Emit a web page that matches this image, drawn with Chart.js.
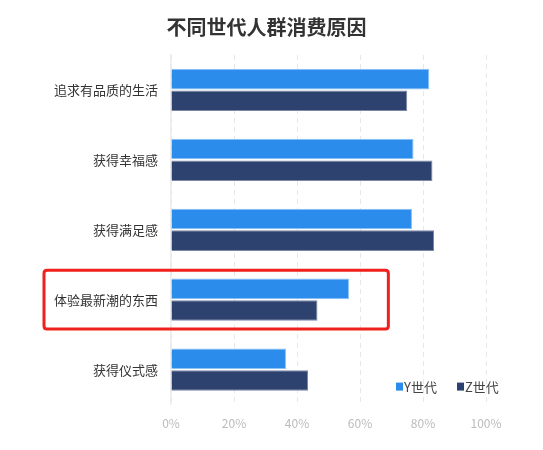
<!DOCTYPE html>
<html>
<head>
<meta charset="utf-8">
<script src="https://cdn.jsdelivr.net/npm/chart.js@4"></script>
<style>
html,body{margin:0;padding:0;background:#fff;}
#wrap{width:543px;height:450px;}
</style>
</head>
<body>
<div id="wrap"><canvas id="c"></canvas></div>
<script>
const categories = ['追求有品质的生活','获得幸福感','获得满足感','体验最新潮的东西','获得仪式感'];
const seriesY = [82, 77, 76.5, 56.5, 36.5];
const seriesZ = [75, 83, 83.5, 46.5, 43.5];
const seriesNames = ['Y世代','Z世代'];
const xTicks = [0,20,40,60,80,100];
const highlightIndex = 3;

const FONT = '"Noto Sans CJK SC","Noto Sans",sans-serif';

const highlightPlugin = {
  id:'highlight',
  afterDatasetsDraw(chart){
    const {ctx, scales:{x,y}} = chart;
    const c = y.getPixelForValue(highlightIndex);
    const step = Math.abs(y.getPixelForValue(1) - y.getPixelForValue(0));
    const top = c - step*0.42, bottom = c + step*0.42;
    const left = 44, right = x.getPixelForValue(69);
    ctx.save();
    ctx.strokeStyle = '#f0211d';
    ctx.lineWidth = 3;
    const r = 3;
    ctx.beginPath();
    ctx.moveTo(left+r, top);
    ctx.lineTo(right-r, top); ctx.quadraticCurveTo(right, top, right, top+r);
    ctx.lineTo(right, bottom-r); ctx.quadraticCurveTo(right, bottom, right-r, bottom);
    ctx.lineTo(left+r, bottom); ctx.quadraticCurveTo(left, bottom, left, bottom-r);
    ctx.lineTo(left, top+r); ctx.quadraticCurveTo(left, top, left+r, top);
    ctx.closePath();
    ctx.stroke();
    ctx.restore();
  }
};

const legendPlugin = {
  id:'innerLegend',
  afterDraw(chart){
    const {ctx, chartArea} = chart;
    ctx.save();
    ctx.font = '13px ' + FONT;
    ctx.textBaseline = 'middle';
    const yc = chartArea.bottom - 18;
    let xs = [396, 457];
    chart.data.datasets.forEach((ds,i)=>{
      ctx.fillStyle = ds.backgroundColor;
      ctx.fillRect(xs[i], yc-4, 7, 8);
      ctx.fillStyle = '#444';
      ctx.textAlign = 'left';
      ctx.fillText(ds.label, xs[i]+8, yc);
    });
    ctx.restore();
  }
};

new Chart(document.getElementById('c'), {
  type:'bar',
  data:{
    labels: categories,
    datasets:[
      {label: seriesNames[0], data: seriesY, backgroundColor:'#2b8cec', borderColor:'#8cc2f5', borderWidth:1, categoryPercentage:0.62, barPercentage:0.95},
      {label: seriesNames[1], data: seriesZ, backgroundColor:'#2e4270', borderColor:'#7d88a6', borderWidth:1, categoryPercentage:0.62, barPercentage:0.95}
    ]
  },
  options:{
    indexAxis:'y',
    responsive:true,
    maintainAspectRatio:false,
    animation:false,
    layout:{padding:{top:0,right:57,bottom:7,left:47}},
    plugins:{
      legend:{display:false},
      tooltip:{enabled:false},
      title:{display:true, text:'不同世代人群消费原因', color:'#333', font:{family:FONT,size:20,weight:'bold'}, padding:{top:15,bottom:16}}
    },
    scales:{
      x:{
        min:0, max:100,
        afterBuildTicks(s){ s.ticks = xTicks.map(v=>({value:v})); },
        ticks:{color:'#bbb', font:{family:FONT,size:12}, padding:12, callback:v=>v+'%'},
        grid:{color:'#e8e8e8', drawTicks:false},
        border:{display:false, dash:[5,4]}
      },
      y:{
        ticks:{color:'#333', font:{family:FONT,size:13}, padding:13},
        grid:{display:false, drawTicks:false},
        border:{display:true, color:'#ececec', width:1.5},
        afterFit(s){ s.width = 124; }
      }
    }
  },
  plugins:[highlightPlugin, legendPlugin]
});
</script>
</body>
</html>
